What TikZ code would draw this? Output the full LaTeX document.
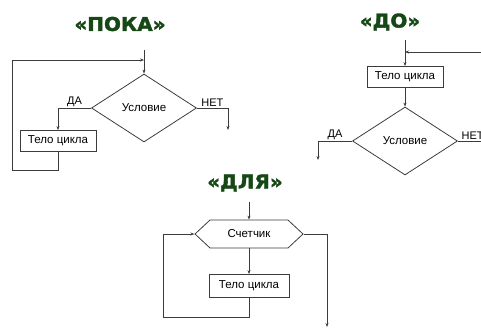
\documentclass[tikz,border=0pt]{standalone}
\usepackage{fontspec}
\setmainfont{Liberation Sans}
\newfontfamily\titlefont[FakeBold=2]{DejaVu Sans Bold}
\usepackage{tikz}
\usetikzlibrary{positioning, arrows.meta, shapes.geometric, shapes.symbols}

\definecolor{titlegreen}{RGB}{22,72,22}
\definecolor{linegray}{RGB}{60,60,60}

\begin{document}
\begin{tikzpicture}[x=1pt, y=-1pt, line width=0.8pt, draw=linegray,
  >={Stealth[length=4pt, width=3pt]},
  title/.style={font=\titlefont\fontsize{19}{19}\selectfont, text=titlegreen, xscale=1.05, inner sep=0},
  box/.style={rectangle, draw=linegray, fill=white, minimum width=76pt, minimum height=21pt, inner sep=0, font=\fontsize{11.5}{12}\selectfont},
  cond/.style={diamond, draw=linegray, minimum width=105pt, minimum height=68pt, inner sep=0, font=\fontsize{11.5}{12}\selectfont},
  counter/.style={signal, signal to=west and east, signal pointer angle=86, draw=linegray, minimum width=108pt, minimum height=28pt, inner sep=0, font=\fontsize{11.5}{12}\selectfont},
  lbl/.style={font=\fontsize{11}{11}\selectfont, inner sep=1pt}]
\useasboundingbox (0,0) rectangle (481,329);

% ПОКА
\node [title] (t1) at (120,24) {«ПОКА»};
\coordinate (in1) at (144,50);
\coordinate (top1) at (144,60);
\node [cond] (cond1) at (144,108) {Условие};
\node [box] (body1) at (58,141) {Тело цикла};
\coordinate (no1) at (228,130);
\coordinate (loop1) at (12,170);

\draw [->] (in1) -- (cond1.north);
\draw [->] (cond1.west) -| node[lbl, pos=0.25, above] {ДА} (body1.north);
\draw [->] (cond1.east) -| node[lbl, pos=0.25, above] {НЕТ} (no1);
\draw [->] (body1.south) |- (loop1) |- (top1);

% ДО
\node [title] (t2) at (390,22) {«ДО»};
\coordinate (in2) at (405,40);
\coordinate (join2) at (405,52);
\coordinate (ret2) at (481,52);
\node [box] (body2) at (405,77) {Тело цикла};
\node [cond] (cond2) at (405,141) {Условие};
\coordinate (yes2) at (318,160);
\coordinate (no2) at (481,141);

\draw [->] (in2) -- (body2.north);
\draw [->] (ret2) -- (join2);
\draw [->] (body2.south) -- (cond2.north);
\draw [->] (cond2.west) -| node[lbl, pos=0.25, above] {ДА} (yes2);
\draw (cond2.east) -- node[lbl, pos=0.1, anchor=south west] {НЕТ} (no2);

% ДЛЯ
\node [title] (t3) at (245,183) {«ДЛЯ»};
\coordinate (in3) at (249,202);
\node [counter] (cnt3) at (249,234) {Счетчик};
\node [box, minimum width=80pt, minimum height=23pt] (body3) at (249,286) {Тело цикла};
\coordinate (loop3) at (163,317);
\coordinate (out3) at (327,327);

\draw [->] (in3) -- (cnt3.north);
\draw [->] (cnt3.south) -- (body3.north);
\draw [->] (body3.south) |- (loop3) |- (cnt3.west);
\draw [->] (cnt3.east) -| (out3);

\end{tikzpicture}
\end{document}
